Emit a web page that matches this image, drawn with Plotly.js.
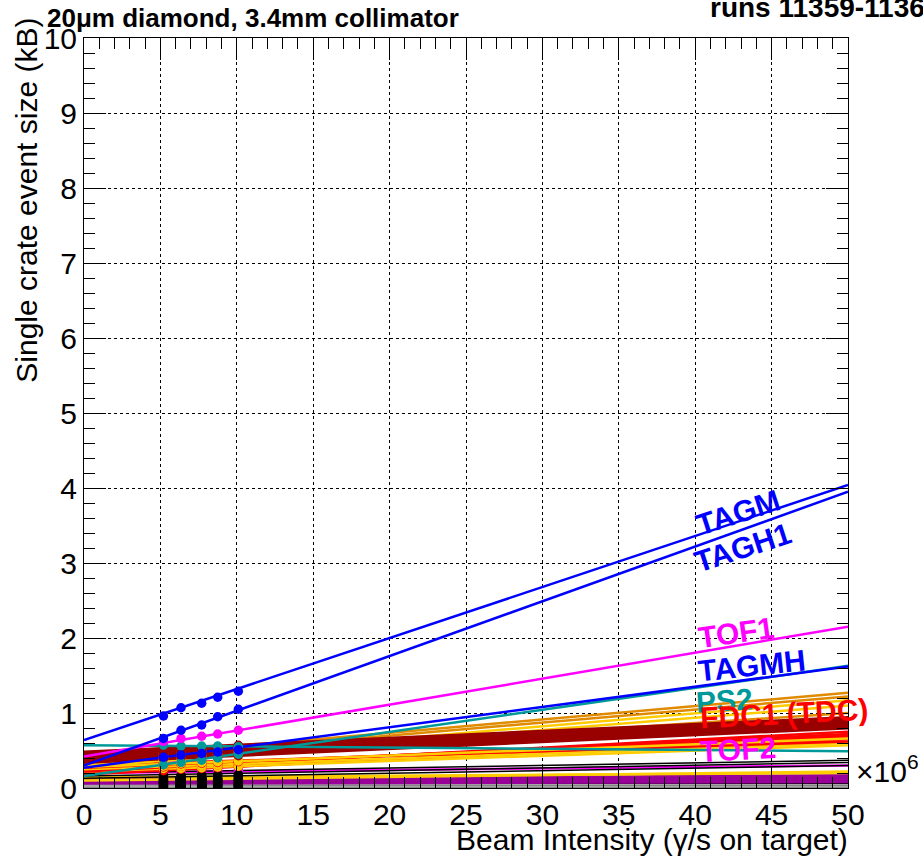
<!DOCTYPE html>
<html>
<head>
<meta charset="utf-8">
<script src="https://cdn.plot.ly/plotly-3.0.1.min.js"></script>
<style>html,body{margin:0;padding:0;background:#fff;}</style>
</head>
<body>
<div id="chart" style="width:923px;height:857px;"></div>
<script>
// ---- data ----
const xPoints = [5.2, 6.35, 7.7, 8.75, 10.1];
const fitRange = [0, 50];

const crateNames = [
  'G1','K1','G2','K2','G3','K3',
  'P1','P2','P3','P4','P5',
  'Y1','Y2','TOF2','B1','B2','B3',
  'R6','R4','Y4','R1','R2','Y3','R3','R5','Y5',
  'O3','Y7','Y6','O2','O1',
  'D7','D1','D2','D3','D4','D5','D6',
  'PS1','PS2','TAGMH','TOF1','TAGH1','TAGM'
];
const crateColors = [
  'gray','black','gray','black','gray','black',
  'purple','purple','purple','purple','purple',
  'gold','gold','magenta','black','black','black',
  'red','red','gold','red','red','gold','red','red','gold',
  'orange','gold','gold','orange','orange',
  'brown','brown','brown','brown','brown','brown','brown',
  'teal','teal','blue','magenta','blue','blue'
];
const markerColorsKey = [
  'black','black','black','black','black','black',
  'black','black','black','black','black',
  'gold','black','magenta','black','black','black',
  'red','red','gold','red','red','gold','red','red','gold',
  'orange','gold','gold','orange','orange',
  'brown','brown','brown','brown','brown','brown','brown',
  'teal','teal','blue','magenta','blue','blue'
];
// fitted event size (kB) at 0 and 50 x10^6 gamma/s
const fitAt0 = [
  0.012,0.021,0.030,0.040,0.048,0.062,
  0.070,0.090,0.100,0.080,0.110,
  0.140,0.100,0.200,0.160,0.130,0.200,
  0.180,0.200,0.220,0.220,0.240,0.250,0.270,0.300,0.280,
  0.330,0.280,0.300,0.350,0.380,
  0.340,0.360,0.385,0.410,0.430,0.455,0.480,
  0.570,0.160,0.270,0.420,0.300,0.640
];
const fitAt50 = [
  0.012,0.021,0.030,0.040,0.050,0.065,
  0.090,0.110,0.130,0.150,0.160,
  0.200,0.220,0.300,0.340,0.300,0.370,
  0.700,0.650,0.570,0.750,0.720,0.600,0.680,0.620,0.660,
  1.000,1.100,1.170,1.220,1.270,
  0.800,0.820,0.850,0.870,0.890,0.910,0.940,
  0.490,1.630,1.620,2.150,3.950,4.040
];
// measured points at xPoints
const measured = [
  [0.01,0.01,0.01,0.01,0.01],
  [0.02,0.02,0.02,0.02,0.02],
  [0.03,0.03,0.03,0.03,0.03],
  [0.04,0.04,0.04,0.04,0.04],
  [0.05,0.05,0.05,0.05,0.05],
  [0.06,0.06,0.06,0.06,0.06],
  [0.07,0.07,0.07,0.07,0.07],
  [0.09,0.09,0.09,0.09,0.09],
  [0.10,0.10,0.10,0.11,0.11],
  [0.08,0.09,0.09,0.09,0.10],
  [0.12,0.12,0.12,0.12,0.12],
  [0.15,0.15,0.15,0.15,0.13],
  [0.11,0.12,0.12,0.12,0.12],
  [0.22,0.22,0.23,0.23,0.24],
  [0.17,0.17,0.18,0.18,0.18],
  [0.15,0.15,0.16,0.16,0.16],
  [0.14,0.14,0.15,0.15,0.15],
  [0.23,0.25,0.26,0.27,0.29],
  [0.25,0.26,0.27,0.28,0.29],
  [0.26,0.26,0.27,0.28,0.29],
  [0.28,0.29,0.30,0.31,0.33],
  [0.29,0.30,0.31,0.32,0.34],
  [0.29,0.29,0.30,0.31,0.32],
  [0.31,0.32,0.33,0.34,0.35],
  [0.33,0.34,0.35,0.36,0.36],
  [0.32,0.33,0.34,0.35,0.36],
  [0.40,0.42,0.43,0.45,0.47],
  [0.37,0.38,0.41,0.42,0.45],
  [0.39,0.41,0.43,0.45,0.48],
  [0.44,0.46,0.48,0.50,0.53],
  [0.47,0.49,0.52,0.54,0.56],
  [0.39,0.40,0.41,0.42,0.43],
  [0.41,0.42,0.43,0.44,0.45],
  [0.43,0.44,0.45,0.46,0.47],
  [0.45,0.46,0.47,0.48,0.50],
  [0.48,0.49,0.50,0.51,0.52],
  [0.50,0.51,0.52,0.53,0.55],
  [0.52,0.53,0.54,0.55,0.57],
  [0.57,0.56,0.56,0.56,0.55],
  [0.31,0.34,0.37,0.40,0.45],
  [0.41,0.44,0.46,0.48,0.51],
  [0.62,0.66,0.69,0.72,0.77],
  [0.66,0.77,0.84,0.95,1.05],
  [0.96,1.07,1.13,1.21,1.29]
];
const labelTexts = ['TAGM','TAGH1','TOF1','TAGMH','PS2','FDC1 (TDC)','TOF2'];
const labelX = [42.8, 43.1, 42.7, 43.7, 41.9, 45.8, 42.8];
const labelY = [3.68, 3.21, 2.08, 1.63, 1.17, 1.00, 0.51];
const labelColorKey = ['blue','blue','magenta','blue','teal','red','magenta'];
const labelAngle = [-18, -18, -8, -6, -4, -3, -3];

// ---- styles ----
const palette = {
  gray:'#a6a6a6', black:'#000000', purple:'#990099', gold:'#ffcc00',
  magenta:'#ff00ff', red:'#ff0000', orange:'#e08a00', brown:'#990000',
  teal:'#009999', blue:'#0000ff'
};
const widthFor = {gray:3, black:1.5, purple:4, gold:2.5, magenta:2.5, red:2.5, orange:2.5, brown:3, teal:2.5, blue:2.5};

const traces = [];
crateNames.forEach((nm, i) => {
  const c = crateColors[i];
  traces.push({
    type:'scatter', mode:'lines', name:nm,
    x: fitRange, y: [fitAt0[i], fitAt50[i]],
    line:{color: palette[c], width: widthFor[c]},
    hoverinfo:'skip'
  });
});
crateNames.forEach((nm, i) => {
  traces.push({
    type:'scatter', mode:'markers', name:nm,
    x: xPoints, y: measured[i],
    marker:{color: palette[markerColorsKey[i]], size:9.5, line:{width:0}},
    hoverinfo:'skip'
  });
});

const FONT = 'Liberation Sans, Arial, Helvetica, sans-serif';
const annotations = labelTexts.map((t, i) => ({
  x: labelX[i], y: labelY[i], xref:'x', yref:'y',
  text: '<b>' + t + '</b>', showarrow:false, textangle: labelAngle[i],
  xanchor:'center', yanchor:'middle',
  font:{family: FONT, size: 30, color: palette[labelColorKey[i]]}
}));
annotations.push(
  {xref:'paper', yref:'paper', x:-0.051, y:1.026, xanchor:'left', yanchor:'middle',
   text:'<b>20μm diamond, 3.4mm collimator</b>', showarrow:false,
   font:{family:FONT, size:26, color:'#000'}},
  {xref:'paper', yref:'paper', x:0.8168, y:1.04, xanchor:'left', yanchor:'middle',
   text:'<b>runs 11359-11363</b>', showarrow:false,
   font:{family:FONT, size:28, color:'#000'}},
  {xref:'paper', yref:'paper', x:1.003, y:-0.068, xanchor:'right', yanchor:'middle',
   text:'Beam Intensity (γ/s on target)', showarrow:false,
   font:{family:FONT, size:30, color:'#000'}},
  {xref:'paper', yref:'paper', x:-0.075, y:0.784, xanchor:'center', yanchor:'middle',
   text:'Single crate event size (kB)', showarrow:false, textangle:-90,
   font:{family:FONT, size:30, color:'#000'}},
  {xref:'paper', yref:'paper', x:1.008, y:-0.003, xanchor:'left', yanchor:'bottom',
   text:'×10<sup>6</sup>', showarrow:false,
   font:{family:FONT, size:30, color:'#000'}}
);

const axisCommon = {
  ticks:'inside', ticklen:22, tickwidth:1, tickcolor:'#000',
  mirror:'ticks', showline:true, linecolor:'#000', linewidth:1,
  showgrid:true, gridcolor:'#000', griddash:'dot', gridwidth:1,
  zeroline:false, tickfont:{family:FONT, size:30, color:'#000'},
  fixedrange:true
};
const layout = {
  width:923, height:857,
  margin:{l:84, r:75, t:38, b:69, pad:0},
  paper_bgcolor:'#fff', plot_bgcolor:'#fff',
  showlegend:false,
  font:{family:FONT, size:30, color:'#000'},
  xaxis: Object.assign({}, axisCommon, {
    range:[0,50], tick0:0, dtick:5,
    minor:{dtick:1, ticklen:11, tickcolor:'#000', ticks:'inside', showgrid:false}
  }),
  yaxis: Object.assign({}, axisCommon, {
    range:[0,10], tick0:0, dtick:1,
    minor:{dtick:0.2, ticklen:11, tickcolor:'#000', ticks:'inside', showgrid:false}
  }),
  annotations: annotations
};

Plotly.newPlot('chart', traces, layout, {displayModeBar:false, staticPlot:true});
</script>
</body>
</html>
